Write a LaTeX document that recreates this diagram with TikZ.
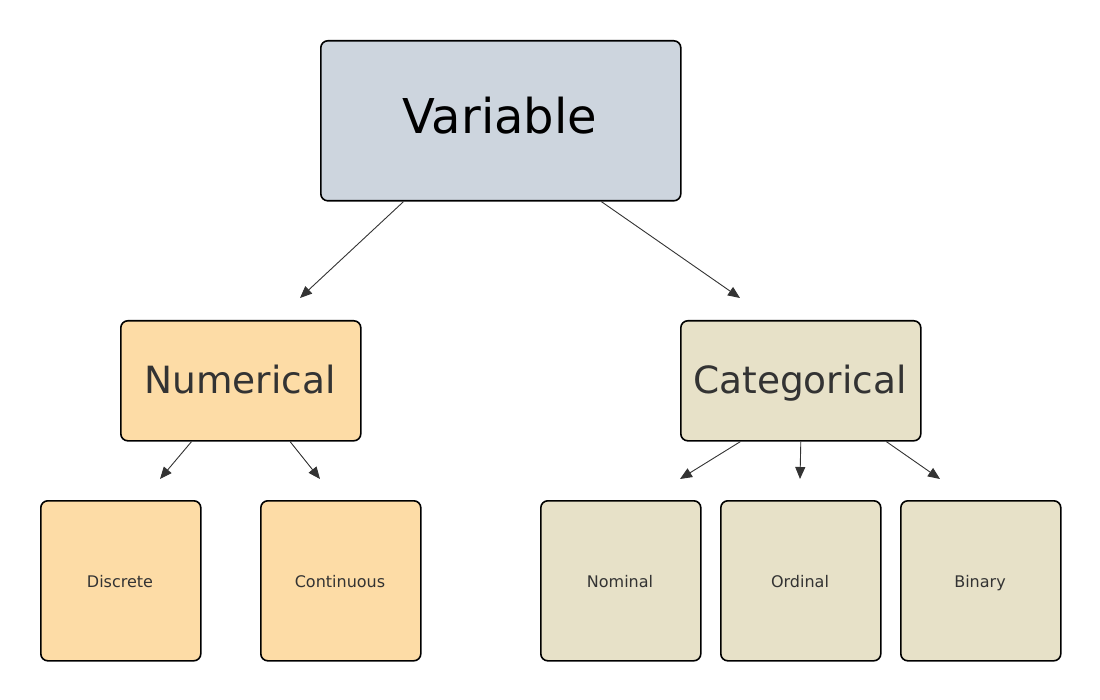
\documentclass[tikz,border=0pt]{standalone}
\usepackage{fontspec}
\setmainfont{DejaVu Sans}
\usetikzlibrary{arrows.meta,calc}
\definecolor{topfill}{HTML}{CDD5DE}
\definecolor{numfill}{HTML}{FDDCA6}
\definecolor{catfill}{HTML}{E7E1C8}
\definecolor{ink}{HTML}{333333}
\tikzset{
  box/.style={draw=black, line width=1.6pt, rounded corners=7pt, inner sep=0pt, anchor=north west},
  label text/.style={anchor=base, inner sep=0pt},
  link/.style={draw=ink, line width=0.9pt, -{Triangle[length=12pt,width=10pt]}},
}
\begin{document}
\begin{tikzpicture}[x=1pt,y=-1pt]
  \useasboundingbox (0,0) rectangle (1100,700);
  % root
  \node[box, fill=topfill, minimum width=360pt, minimum height=160pt] (v) at (320,40) {};
  \node[label text, font=\fontsize{48}{50}\selectfont, text=black] (vt) at (500,134) {Variable};
  % second level
  \node[box, fill=numfill, minimum width=240pt, minimum height=120pt] (num) at (120,320) {};
  \node[label text, font=\fontsize{37.5}{40}\selectfont, text=ink] (numt) at (240,393) {Numerical};
  \node[box, fill=catfill, minimum width=240pt, minimum height=120pt] (cat) at (680,320) {};
  \node[label text, font=\fontsize{37.5}{40}\selectfont, text=ink] (catt) at (800,393) {Categorical};
  % leaves
  \foreach \name/\x/\col/\txt in {dis/40/numfill/Discrete, con/260/numfill/Continuous,
      nom/540/catfill/Nominal, ord/720/catfill/Ordinal, bin/900/catfill/Binary}{
    \node[box, fill=\col, minimum width=160pt, minimum height=160pt] (\name) at (\x,500) {};
    \node[label text, font=\fontsize{16}{18}\selectfont, text=ink] (\name t) at (\x+80,587) {\txt};
  }
  % arrow end points
  \coordinate (e1) at (300,298);
  \coordinate (e2) at (740,298);
  \coordinate (e3) at (160,479);
  \coordinate (e4) at (320,479);
  \coordinate (e5) at (680,479);
  \coordinate (e6) at (800,479);
  \coordinate (e7) at (940,479);
  % connectors
  \draw[link] ($(v.south west)!0.231!(v.south east)$) -- (e1);
  \draw[link] ($(v.south west)!0.778!(v.south east)$) -- (e2);
  \draw[link] ($(num.south west)!0.296!(num.south east)$) -- (e3);
  \draw[link] ($(num.south west)!0.704!(num.south east)$) -- (e4);
  \draw[link] ($(cat.south west)!0.25!(cat.south east)$) -- (e5);
  \draw[link] ($(cat.south west)!0.5!(cat.south east)$) -- (e6);
  \draw[link] ($(cat.south west)!0.854!(cat.south east)$) -- (e7);
\end{tikzpicture}
\end{document}
